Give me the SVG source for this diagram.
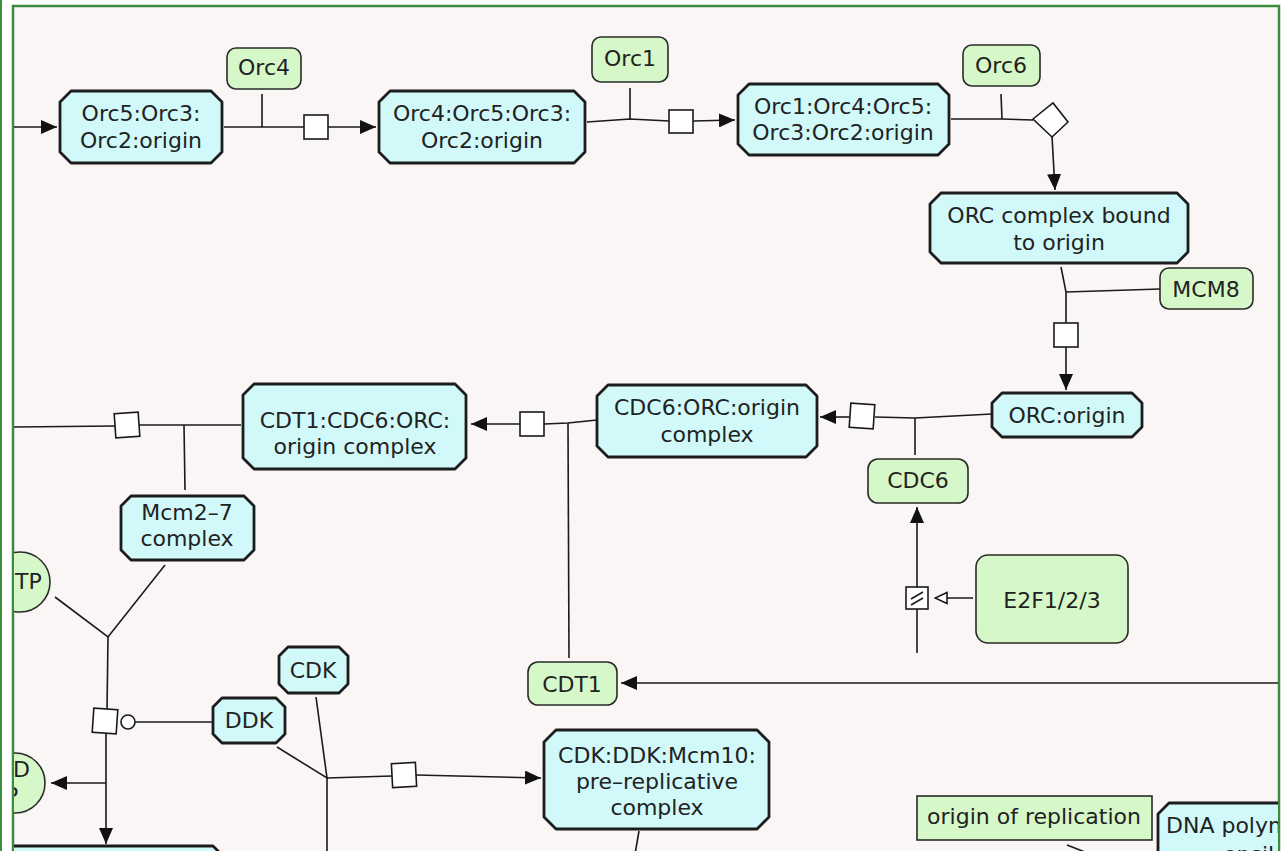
<svg xmlns="http://www.w3.org/2000/svg" width="1285" height="851" viewBox="0 0 1285 851">
<defs>
<style>
.t{font-family:"DejaVu Sans","Liberation Sans",sans-serif;font-size:22px;fill:#222;text-anchor:middle}
.ts{font-family:"DejaVu Sans","Liberation Sans",sans-serif;font-size:22px;fill:#222;text-anchor:start}
.cx{fill:#d1f9f9;stroke:#1c1c1c;stroke-width:2.8;stroke-linejoin:round}
.pr{fill:#d6f8c9;stroke:#2a2a2a;stroke-width:1.6}
.ln{fill:none;stroke:#1a1a1a;stroke-width:1.6}
.sq{fill:#fff;stroke:#1a1a1a;stroke-width:1.6}
</style>
<marker id="arr" viewBox="0 0 16 14" refX="16" refY="7" markerWidth="16" markerHeight="14" orient="auto" markerUnits="userSpaceOnUse"><path d="M0,0 L16,7 L0,14 z" fill="#111"/></marker>
<marker id="open" viewBox="0 0 14 14" refX="13" refY="7" markerWidth="14" markerHeight="14" orient="auto" markerUnits="userSpaceOnUse"><path d="M1,1.5 L13,7 L1,12.5 z" fill="#fff" stroke="#111" stroke-width="1.5"/></marker>
<clipPath id="fc"><rect x="14" y="7" width="1264" height="850"/></clipPath>
</defs>
<rect x="0" y="0" width="1285" height="851" fill="#fff"/>
<rect x="0" y="0" width="2" height="851" fill="#3d8b3d"/>
<rect x="13" y="6" width="1266" height="870" fill="#f9f6f5" stroke="#3d8b3d" stroke-width="2.5"/>
<g clip-path="url(#fc)">
<g id="connectors">
<line class="ln" x1="13" y1="127" x2="57" y2="127" marker-end="url(#arr)"/>
<line class="ln" x1="224" y1="127" x2="304" y2="127"/>
<line class="ln" x1="262" y1="94" x2="262" y2="127"/>
<line class="ln" x1="328" y1="127" x2="376" y2="127" marker-end="url(#arr)"/>
<rect class="sq" x="304" y="115" width="24" height="24"/>
<polyline class="ln" points="587,122 630,119 669,121"/>
<line class="ln" x1="630" y1="88" x2="630" y2="119"/>
<line class="ln" x1="693" y1="121" x2="735" y2="120" marker-end="url(#arr)"/>
<rect class="sq" x="669" y="110" width="24" height="23"/>
<polyline class="ln" points="951,119 1002,119 1033,120"/>
<line class="ln" x1="1001" y1="94" x2="1002" y2="119"/>
<line class="ln" x1="1052" y1="136" x2="1055" y2="190" marker-end="url(#arr)"/>
<polygon class="sq" points="1033,119 1053,103 1068,122 1052,137"/>
<polyline class="ln" points="1061,267 1066,292 1066,323"/>
<line class="ln" x1="1066" y1="292" x2="1160" y2="289"/>
<line class="ln" x1="1066" y1="347" x2="1066" y2="390" marker-end="url(#arr)"/>
<rect class="sq" x="1054" y="323" width="24" height="24"/>
<polyline class="ln" points="992,414 915,418 875,417"/>
<line class="ln" x1="915" y1="418" x2="915" y2="455"/>
<line class="ln" x1="849" y1="417" x2="820" y2="417" marker-end="url(#arr)"/>
<rect class="sq" x="850" y="404" width="24" height="24" transform="rotate(4 862 416)"/>
<line class="ln" x1="917" y1="653" x2="917" y2="507" marker-end="url(#arr)"/>
<line class="ln" x1="973" y1="598" x2="935" y2="598" marker-end="url(#open)"/>
<rect class="sq" x="906" y="587" width="22" height="22"/>
<line class="ln" x1="911" y1="599" x2="923" y2="592"/>
<line class="ln" x1="911" y1="605" x2="923" y2="598"/>
<polyline class="ln" points="597,420 568,423 544,424"/>
<line class="ln" x1="569" y1="658" x2="568" y2="423"/>
<line class="ln" x1="520" y1="424" x2="471" y2="424" marker-end="url(#arr)"/>
<rect class="sq" x="520" y="412" width="24" height="24"/>
<polyline class="ln" points="241,425 184,425 139,425"/>
<line class="ln" x1="184" y1="425" x2="185" y2="490"/>
<line class="ln" x1="115" y1="426" x2="13" y2="427"/>
<rect class="sq" x="115" y="413" width="24" height="24" transform="rotate(-4 127 425)"/>
<polyline class="ln" points="55,597 108,637 165,565"/>
<line class="ln" x1="108" y1="637" x2="107" y2="710"/>
<line class="ln" x1="135" y1="722" x2="212" y2="722"/>
<circle cx="128" cy="722" r="7" fill="#fff" stroke="#1a1a1a" stroke-width="1.6"/>
<line class="ln" x1="106" y1="733" x2="106" y2="844" marker-end="url(#arr)"/>
<line class="ln" x1="106" y1="783" x2="51" y2="783" marker-end="url(#arr)"/>
<rect class="sq" x="93" y="709" width="24" height="24" transform="rotate(4 105 721)"/>
<polyline class="ln" points="277,747 327,778 316,697"/>
<line class="ln" x1="327" y1="778" x2="327" y2="870"/>
<line class="ln" x1="327" y1="778" x2="392" y2="776"/>
<line class="ln" x1="416" y1="775" x2="541" y2="778" marker-end="url(#arr)"/>
<rect class="sq" x="392" y="763" width="24" height="24" transform="rotate(-3 404 775)"/>
<line class="ln" x1="639" y1="831" x2="634" y2="860"/>
<line class="ln" x1="1280" y1="683" x2="621" y2="683" marker-end="url(#arr)"/>
<line class="ln" x1="1067" y1="845" x2="1090" y2="854"/>
</g>
<g id="n-orc5">
<polygon class="cx" points="71,91 211,91 222,102 222,152 211,163 71,163 60,152 60,102"/>
<text class="t" x="141" y="121">Orc5:Orc3:</text>
<text class="t" x="141" y="148">Orc2:origin</text>
</g>
<g id="n-orc4">
<rect class="pr" x="227" y="48" width="74" height="41" rx="9"/>
<text class="t" x="264" y="75">Orc4</text>
</g>
<g id="n-orc45">
<polygon class="cx" points="390,91 574,91 585,102 585,152 574,163 390,163 379,152 379,102"/>
<text class="t" x="482" y="121">Orc4:Orc5:Orc3:</text>
<text class="t" x="482" y="148">Orc2:origin</text>
</g>
<g id="n-orc1">
<rect class="pr" x="592" y="37" width="76" height="45" rx="9"/>
<text class="t" x="630" y="66">Orc1</text>
</g>
<g id="n-orc145">
<polygon class="cx" points="749,84 938,84 949,95 949,144 938,155 749,155 738,144 738,95"/>
<text class="t" x="843" y="114">Orc1:Orc4:Orc5:</text>
<text class="t" x="843" y="140">Orc3:Orc2:origin</text>
</g>
<g id="n-orc6">
<rect class="pr" x="963" y="45" width="77" height="41" rx="9"/>
<text class="t" x="1001" y="73">Orc6</text>
</g>
<g id="n-orcbound">
<polygon class="cx" points="941,193 1177,193 1188,204 1188,252 1177,263 941,263 930,252 930,204"/>
<text class="t" x="1059" y="223">ORC complex bound</text>
<text class="t" x="1059" y="250">to origin</text>
</g>
<g id="n-mcm8">
<rect class="pr" x="1160" y="268" width="93" height="41" rx="9"/>
<text class="t" x="1206" y="297">MCM8</text>
</g>
<g id="n-orcorigin">
<polygon class="cx" points="1002,393 1132,393 1142,403 1142,427 1132,437 1002,437 992,427 992,403"/>
<text class="t" x="1067" y="423">ORC:origin</text>
</g>
<g id="n-cdc6orc">
<polygon class="cx" points="608,385 806,385 817,396 817,446 806,457 608,457 597,446 597,396"/>
<text class="t" x="707" y="415">CDC6:ORC:origin</text>
<text class="t" x="707" y="442">complex</text>
</g>
<g id="n-cdc6">
<rect class="pr" x="868" y="459" width="100" height="44" rx="10"/>
<text class="t" x="918" y="488">CDC6</text>
</g>
<g id="n-e2f">
<rect class="pr" x="976" y="555" width="152" height="88" rx="12"/>
<text class="t" x="1052" y="608">E2F1/2/3</text>
</g>
<g id="n-cdt1cdc6">
<polygon class="cx" points="254,384 455,384 466,395 466,458 455,469 254,469 243,458 243,395"/>
<text class="t" x="355" y="428">CDT1:CDC6:ORC:</text>
<text class="t" x="355" y="454">origin complex</text>
</g>
<g id="n-mcm27">
<polygon class="cx" points="131,496 244,496 254,506 254,550 244,560 131,560 121,550 121,506"/>
<text class="t" x="187" y="520">Mcm2–7</text>
<text class="t" x="187" y="546">complex</text>
</g>
<g id="n-cdt1">
<rect class="pr" x="528" y="662" width="89" height="43" rx="10"/>
<text class="t" x="572" y="692">CDT1</text>
</g>
<g id="n-atp">
<circle cx="20" cy="582" r="30" class="pr"/>
<text class="ts" x="15" y="589">TP</text>
</g>
<g id="n-adp">
<circle cx="15" cy="783" r="30" class="pr"/>
<text class="ts" x="13" y="777">D</text>
<text class="ts" x="5" y="803">P</text>
</g>
<g id="n-ddk">
<polygon class="cx" points="222,698 276,698 285,707 285,734 276,743 222,743 213,734 213,707"/>
<text class="t" x="249" y="728">DDK</text>
</g>
<g id="n-cdk">
<polygon class="cx" points="288,647 339,647 348,656 348,684 339,693 288,693 279,684 279,656"/>
<text class="t" x="313" y="678">CDK</text>
</g>
<g id="n-prerep">
<polygon class="cx" points="556,730 757,730 769,742 769,817 757,829 556,829 544,817 544,742"/>
<text class="t" x="657" y="763">CDK:DDK:Mcm10:</text>
<text class="t" x="657" y="789">pre–replicative</text>
<text class="t" x="657" y="815">complex</text>
</g>
<g id="n-bottomleft">
<polygon class="cx" points="0,846 213,846 224,857 224,900 0,900"/>
</g>
<g id="n-origin">
<rect class="pr" x="917" y="796" width="235" height="44"/>
<text class="t" x="1034" y="824">origin of replication</text>
</g>
<g id="n-dnapol">
<polygon class="cx" points="1158,814 1169,803 1300,803 1300,900 1158,900"/>
<text class="ts" x="1166" y="833">DNA polym</text>
<text class="ts" x="1223" y="862">epsil</text>
</g>
</g>
</svg>
